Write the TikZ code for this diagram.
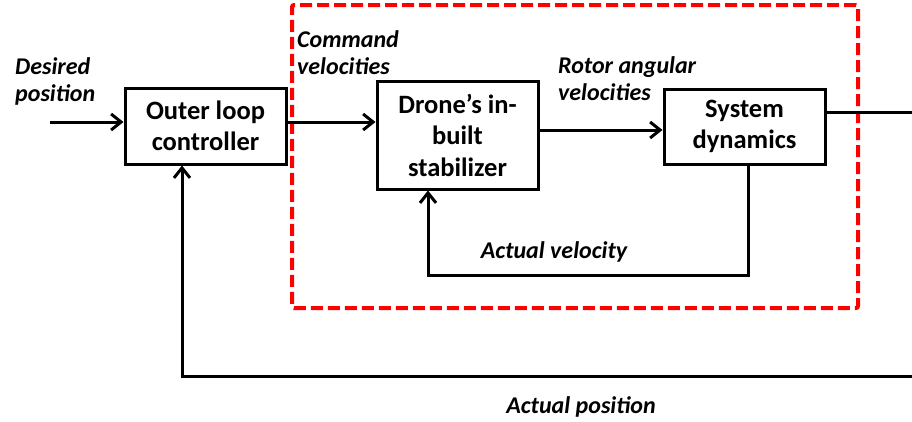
\documentclass[tikz,border=0pt]{standalone}
\usepackage{fontspec}
\setmainfont{Carlito}
\usetikzlibrary{arrows.meta}
\tikzset{
  blk/.style={draw, line width=3pt, minimum width=161pt, align=center, inner sep=0pt,
    font=\fontsize{26.5}{31.5}\selectfont\bfseries},
  lbl/.style={inner sep=0pt, align=left, font=\fontsize{24}{27.5}\selectfont\bfseries\itshape},
  wire/.style={line width=3pt},
  arr/.style={wire, -{Straight Barb[length=10pt,width=16pt]}},
  redbox/.style={draw=red, line width=4pt, dash pattern=on 12pt off 5pt, rounded corners=2pt}
}
\begin{document}
\begin{tikzpicture}[x=1pt,y=-1pt]
\useasboundingbox (0,0) rectangle (912,421);
\node[redbox, minimum width=566pt, minimum height=303pt] (sub) at (575,156.5) {};
\node[blk, minimum height=76pt] (olc) at (205.5,126) {Outer loop\\controller};
\node[blk, minimum height=108pt] (dis) at (457.5,135) {Drone’s in-\\built\\stabilizer};
\node[blk, minimum height=75pt] (sd) at (744.5,126.5) {System\\dynamics};
\coordinate (in) at (50,122);
\coordinate (r) at (0,130);
\coordinate (outE) at (912,112);
\coordinate (v1) at (748,275);
\coordinate (v2) at (428,275);
\coordinate (fbR) at (912,376);
\coordinate (fbL) at (182,376);
\draw[arr] (in) -- (in -| olc.west);
\draw[arr] (olc.east |- in) -- (dis.west |- in);
\draw[arr] (dis.east |- r) -- (sd.west |- r);
\draw[wire] (sd.east |- outE) -- (outE);
\draw[arr] (v1 |- sd.south) -- (v1) -- (v2) -- (v2 |- dis.south);
\draw[arr] (fbR) -- (fbL) -- (fbL |- olc.south);
\node[lbl, anchor=north west] (ldp) at (15,57) {Desired\\position};
\node[lbl, anchor=north west] (lcv) at (297,30) {Command\\velocities};
\node[lbl, anchor=north west] (lra) at (558,56) {Rotor angular\\velocities};
\node[lbl, anchor=base] (lav) at (554,258) {Actual velocity};
\node[lbl, anchor=base] (lap) at (581,413) {Actual position};
\end{tikzpicture}
\end{document}
